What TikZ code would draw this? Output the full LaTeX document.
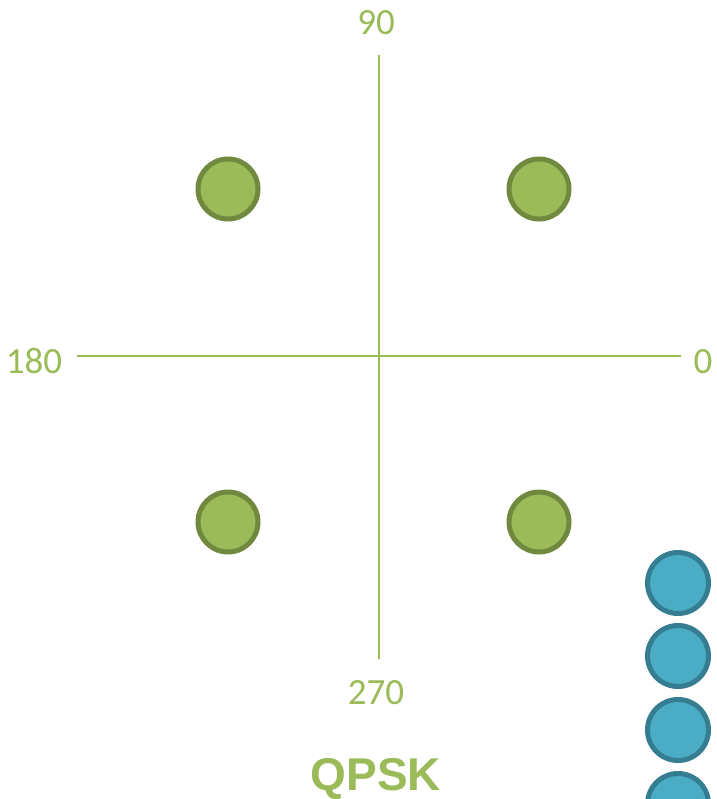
\documentclass[tikz,border=0pt]{standalone}
\usepackage{fontspec}
\setmainfont{Carlito}
\newfontfamily\qfont{Liberation Sans}
\definecolor{gfill}{HTML}{9BBB59}
\definecolor{gline}{HTML}{71893F}
\definecolor{bfill}{HTML}{4BACC6}
\definecolor{bline}{HTML}{357D91}
\begin{document}
\begin{tikzpicture}[x=1pt,y=-1pt,
  axis/.style={draw=gfill,line width=2pt},
  lbl/.style={text=gfill,font=\fontsize{37}{37}\selectfont,anchor=base,inner sep=0pt},
  gdot/.style={circle,fill=gfill,draw=gline,line width=5pt,minimum size=60pt,inner sep=0pt},
  bdot/.style={circle,fill=bfill,draw=bline,line width=5pt,minimum size=61pt,inner sep=0pt}]
\useasboundingbox (0,0) rectangle (716,799);
\coordinate (left) at (77,356);
\coordinate (right) at (681,356);
\coordinate (top) at (379,55);
\coordinate (bot) at (379,659);
\draw[axis] (left) -- (right);
\draw[axis] (top) -- (bot);
\node[lbl] (l90) at (376,35) {90};
\node[lbl] (l180) at (34,373) {180};
\node[lbl] (l0) at (703,373) {0};
\node[lbl] (l270) at (376,704) {270};
\node[gdot] (q1) at (228,189) {};
\node[gdot] (q2) at (539,189) {};
\node[gdot] (q3) at (228,522) {};
\node[gdot] (q4) at (539,522) {};
\node[bdot] (b1) at (678,583) {};
\node[bdot] (b2) at (678,656) {};
\node[bdot] (b3) at (678,730) {};
\node[bdot] (b4) at (678,804) {};
\node[text=gfill,font=\qfont\bfseries\fontsize{46}{46}\selectfont,anchor=base,inner sep=0pt] (title) at (376,790) {QPSK};
\end{tikzpicture}
\end{document}
